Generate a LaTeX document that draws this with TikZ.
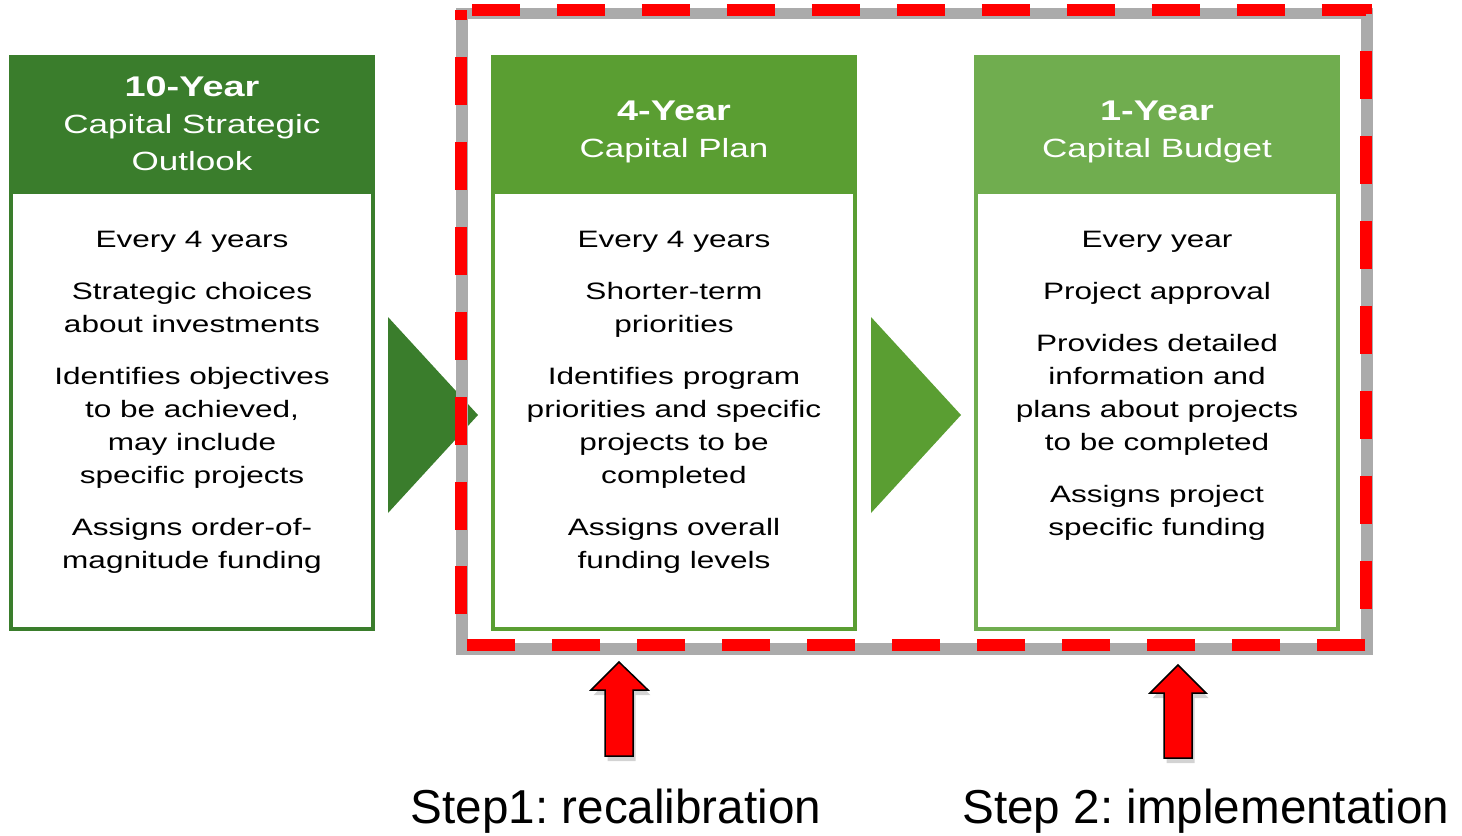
\documentclass[tikz,border=0pt]{standalone}
\usepackage{fontspec}
\setmainfont{Liberation Sans}
\newfontfamily\widefont[FakeStretch=1.33]{Liberation Sans}
\usetikzlibrary{shadows}
\frenchspacing

\definecolor{darkgreen}{HTML}{3A7D2C}
\definecolor{midgreen}{HTML}{5A9E32}
\definecolor{lightgreen}{HTML}{70AD4F}
\definecolor{shadowgray}{HTML}{ABABAB}

\tikzset{
  headbox/.style={minimum width=7.32cm, minimum height=2.74cm, inner sep=0pt},
  bodybox/.style={draw, line width=0.08cm, fill=white, minimum width=7.24cm, minimum height=8.74cm, inner sep=0pt},
  headtext/.style={text=white, align=center, inner sep=0pt, anchor=north, font=\widefont\fontsize{15}{21}\selectfont},
  bodytext/.style={align=center, inner sep=0pt, anchor=north, font=\widefont\fontsize{13.5}{18.8}\selectfont},
  steptext/.style={anchor=base, inner sep=0pt, font=\fontsize{27.1}{32}\selectfont},
  frameshadow/.style={draw=shadowgray, line width=0.24cm, xshift=0.02cm, yshift=-0.07cm},
  redframe/.style={draw=red, line width=0.24cm, dash pattern=on 0.96cm off 0.74cm, dash phase=1.48cm},
  uparrow/.style={fill=red, draw=black, line width=0.03cm, drop shadow={shadow xshift=0.05cm, shadow yshift=-0.1cm, opacity=0.35}}
}

\begin{document}
\begin{tikzpicture}[x=0.02cm, y=-0.02cm]

	\useasboundingbox (0, 0) rectangle (1462, 835);

	% the three plan boxes
	\node[bodybox, draw=darkgreen]  (body10) at (192, 410.5)  {};
	\node[bodybox, draw=midgreen]   (body4)  at (674, 410.5)  {};
	\node[bodybox, draw=lightgreen] (body1)  at (1157, 410.5) {};

	\node[headbox, fill=darkgreen]  (head10) at (192, 123.5)  {};
	\node[headbox, fill=midgreen]   (head4)  at (674, 123.5)  {};
	\node[headbox, fill=lightgreen] (head1)  at (1157, 123.5) {};

	\node[headtext] (title10) at (192, 76)   {{\bfseries\fontsize{16.2}{21}\selectfont 10-Year}\\Capital Strategic\\Outlook};
	\node[headtext] (title4)  at (674, 101)  {{\bfseries\fontsize{16.2}{21}\selectfont 4-Year}\\Capital Plan};
	\node[headtext] (title1)  at (1157, 101) {{\bfseries\fontsize{16.2}{21}\selectfont 1-Year}\\Capital Budget};

	\node[bodytext] (text10) at (192, 231) {Every 4 years\\[10.8pt]
		Strategic choices\\about investments\\[10.8pt]
		Identifies objectives\\to be achieved,\\may include\\specific projects\\[10.8pt]
		Assigns order-of-\\magnitude funding};
	\node[bodytext] (text4) at (674, 231) {Every 4 years\\[10.8pt]
		Shorter-term\\priorities\\[10.8pt]
		Identifies program\\priorities and specific\\projects to be\\completed\\[10.8pt]
		Assigns overall\\funding levels};
	\node[bodytext] (text1) at (1157, 231) {Every year\\[10.8pt]
		Project approval\\[10.8pt]
		Provides detailed\\information and\\plans about projects\\to be completed\\[10.8pt]
		Assigns project\\specific funding};

	% big arrows between boxes
	\fill[darkgreen] (388, 317) -- (478, 415) -- (388, 513) -- cycle;
	\fill[midgreen]  (871, 317) -- (961, 415) -- (871, 513) -- cycle;

	% dashed frame round the last two
	\draw[frameshadow] (461, 10) -- (1366, 10) -- (1366, 645) -- (461, 645) -- cycle;
	\draw[redframe]    (461, 10) -- (1366, 10) -- (1366, 645) -- (461, 645) -- cycle;

	% red pointers
	\draw[uparrow] (605, 756) -- (605, 690) -- (591, 690) -- (619, 662) -- (648, 690) -- (633, 690) -- (633, 756) -- cycle;
	\draw[uparrow] (1164, 758) -- (1164, 693) -- (1150, 693) -- (1178, 665) -- (1206, 693) -- (1192, 693) -- (1192, 758) -- cycle;

	\node[steptext] (step1) at (616, 823)  {Step1: recalibration};
	\node[steptext] (step2) at (1206, 823) {Step 2: implementation};

\end{tikzpicture}
\end{document}
